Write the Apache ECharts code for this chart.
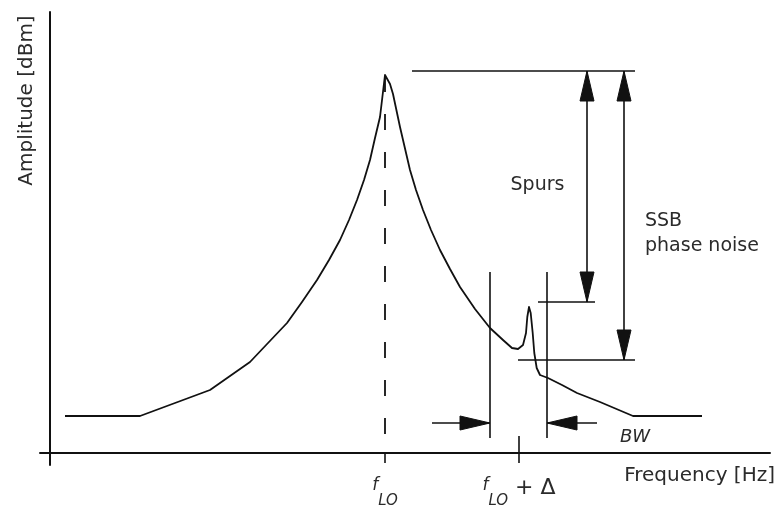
<!DOCTYPE html>
<html>
<head>
<meta charset="utf-8">
<title>LO spectrum: SSB phase noise and spurs</title>
<script src="https://cdn.jsdelivr.net/npm/echarts@6/dist/echarts.min.js"></script>
<style>
  html, body { margin: 0; padding: 0; background: #ffffff; }
  #chart { width: 775px; height: 505px; }
</style>
</head>
<body>
<div id="chart"></div>
<script>
// Oscillator output spectrum (arbitrary frequency / amplitude units)
const freq = [
  1.5, 9.0, 16.0, 20.0, 21.8, 23.7, 25.2, 26.7, 27.9, 29.0, 29.9, 30.7, 31.4, 32.0, 32.5, 33.0,
  33.5,
  34.0, 34.3, 35.0, 36.0, 36.6, 37.3, 38.1, 39.0, 40.0, 41.0, 42.5, 44.0, 45.3, 46.2, 46.8,
  47.3, 47.6, 47.73, 47.9, 48.07, 48.27, 48.43, 48.67, 49.0, 49.8, 51.2, 52.7, 55.0, 58.3, 65.2
];
const amplitude = [
  3.7, 3.7, 6.3, 9.1, 11.0, 13.0, 15.1, 17.3, 19.3, 21.3, 23.3, 25.3, 27.3, 29.3, 31.5, 33.6,
  37.8,
  36.9, 35.9, 32.6, 28.3, 26.3, 24.3, 22.3, 20.3, 18.4, 16.6, 14.4, 12.5, 11.3, 10.5, 10.4,
  10.8, 12.0, 13.6, 14.6, 14.0, 12.0, 10.0, 8.5, 7.8, 7.5, 6.8, 6.0, 5.1, 3.7, 3.7
];

// Reference frequencies and levels
const fLO = 33.5;            // carrier
const fOffset = 46.9;        // f_LO + Δ
const carrierLevel = 38.2;
const spurLevel = 15.1;
const noiseLevel = 9.3;
const bwEdges = [44.0, 49.7];

// Axis tick positions and their labels
const tickValues = [fLO, fOffset];
const tickLabels = ['{f|f}{sub|LO}', '{f|f}{sub|LO}{op| + Δ}'];

const INK = '#111111';
const TEXT = '#2b2b2b';
const FONT = 'DejaVu Sans';

// Measurement guides: [x1, y1, x2, y2, arrowAtStart, arrowAtEnd, dashed]
const guides = [
  [36.2, carrierLevel, 58.5, carrierLevel, 0, 0, 0],
  [48.8, spurLevel, 54.5, spurLevel, 0, 0, 0],
  [46.8, noiseLevel, 58.5, noiseLevel, 0, 0, 0],
  [53.7, carrierLevel, 53.7, spurLevel, 1, 1, 0],
  [57.4, carrierLevel, 57.4, noiseLevel, 1, 1, 0],
  [bwEdges[0], 18.1, bwEdges[0], 1.5, 0, 0, 0],
  [bwEdges[1], 18.1, bwEdges[1], 1.5, 0, 0, 0],
  [38.2, 3.0, bwEdges[0], 3.0, 0, 1, 0],
  [54.7, 3.0, bwEdges[1], 3.0, 0, 1, 0],
  [fOffset, 0, fOffset, 1.7, 0, 0, 0],
  [fLO, 37.7, fLO, 0, 0, 0, 1]
];

// Annotation texts placed in data coordinates
const notes = [
  { text: 'Spurs', x: 48.75, y: 26.75, align: 'center', italic: false, size: 19 },
  { text: 'SSB', x: 59.5, y: 23.2, align: 'left', italic: false, size: 19 },
  { text: 'phase noise', x: 59.5, y: 20.7, align: 'left', italic: false, size: 19 },
  { text: 'BW', x: 58.5, y: 1.55, align: 'center', italic: true, size: 18 }
];

const HEAD_LEN = 30;
const HEAD_W = 14;

function arrowHead(tip, from) {
  const dx = tip[0] - from[0];
  const dy = tip[1] - from[1];
  const len = Math.sqrt(dx * dx + dy * dy) || 1;
  const ux = dx / len, uy = dy / len;
  const bx = tip[0] - ux * HEAD_LEN, by = tip[1] - uy * HEAD_LEN;
  const nx = -uy * HEAD_W / 2, ny = ux * HEAD_W / 2;
  return {
    type: 'polygon',
    shape: { points: [[tip[0], tip[1]], [bx + nx, by + ny], [bx - nx, by - ny]] },
    style: { fill: INK, stroke: INK, lineWidth: 1 }
  };
}

function renderGuide(params, api) {
  const p1 = api.coord([api.value(0), api.value(1)]);
  const p2 = api.coord([api.value(2), api.value(3)]);
  const headStart = api.value(4) === 1;
  const headEnd = api.value(5) === 1;
  const dashed = api.value(6) === 1;
  const children = [{
    type: 'line',
    shape: { x1: p1[0], y1: p1[1], x2: p2[0], y2: p2[1] },
    style: { stroke: INK, lineWidth: dashed ? 1.8 : 1.6, lineDash: dashed ? [16, 22] : null }
  }];
  if (headStart) children.push(arrowHead(p1, p2));
  if (headEnd) children.push(arrowHead(p2, p1));
  return { type: 'group', children: children };
}

function renderNote(params, api) {
  const n = notes[params.dataIndex];
  const p = api.coord([api.value(0), api.value(1)]);
  return {
    type: 'text',
    x: p[0],
    y: p[1],
    style: {
      text: n.text,
      font: (n.italic ? 'italic ' : '') + n.size + 'px "' + FONT + '"',
      fill: TEXT,
      align: n.align,
      verticalAlign: 'middle'
    }
  };
}

const chart = echarts.init(document.getElementById('chart'), null, { renderer: 'canvas' });

chart.setOption({
  animation: false,
  backgroundColor: '#ffffff',
  grid: { left: 40, right: 5, top: 12, bottom: 40, outerBoundsMode: 'none' },
  xAxis: {
    type: 'value',
    min: -1,
    max: 72,
    axisLine: { show: true, onZero: true, lineStyle: { color: INK, width: 2 } },
    splitLine: { show: false },
    axisTick: {
      show: true,
      customValues: tickValues,
      length: 10,
      lineStyle: { color: INK, width: 1.6 }
    },
    axisLabel: {
      show: true,
      customValues: tickValues,
      margin: 12,
      formatter: function (v) {
        let best = 0;
        tickValues.forEach(function (t, i) {
          if (Math.abs(t - v) < Math.abs(tickValues[best] - v)) best = i;
        });
        return tickLabels[best];
      },
      rich: {
        f: { fontFamily: FONT, fontStyle: 'italic', fontSize: 17, lineHeight: 16, verticalAlign: 'top', color: TEXT },
        sub: { fontFamily: FONT, fontStyle: 'italic', fontSize: 15, lineHeight: 32, verticalAlign: 'bottom', color: TEXT },
        op: { fontFamily: FONT, fontSize: 22, lineHeight: 20, verticalAlign: 'top', color: TEXT }
      }
    },
    name: 'Frequency [Hz]',
    nameLocation: 'end',
    nameGap: 5,
    nameTextStyle: {
      fontFamily: FONT,
      fontSize: 20,
      color: TEXT,
      align: 'right',
      verticalAlign: 'top',
      padding: [13, 0, 0, 0]
    }
  },
  yAxis: {
    type: 'value',
    min: -1.2,
    max: 44.1,
    axisLine: { show: true, onZero: true, lineStyle: { color: INK, width: 2 } },
    axisTick: { show: false },
    axisLabel: { show: false },
    splitLine: { show: false }
  },
  graphic: [{
    type: 'text',
    x: 27,
    y: 100.5,
    rotation: Math.PI / 2,
    style: {
      text: 'Amplitude [dBm]',
      font: '20px "' + FONT + '"',
      fill: TEXT,
      align: 'center',
      verticalAlign: 'middle'
    }
  }],
  series: [
    {
      name: 'Spectrum',
      type: 'line',
      data: freq.map(function (f, i) { return [f, amplitude[i]]; }),
      showSymbol: false,
      symbol: 'none',
      smooth: false,
      lineStyle: { color: INK, width: 1.8, join: 'round' },
      silent: true,
      z: 3
    },
    {
      name: 'Guides',
      type: 'custom',
      renderItem: renderGuide,
      data: guides,
      silent: true,
      clip: false,
      z: 4
    },
    {
      name: 'Notes',
      type: 'custom',
      renderItem: renderNote,
      data: notes.map(function (n) { return [n.x, n.y]; }),
      silent: true,
      clip: false,
      z: 5
    }
  ]
});
</script>
</body>
</html>
